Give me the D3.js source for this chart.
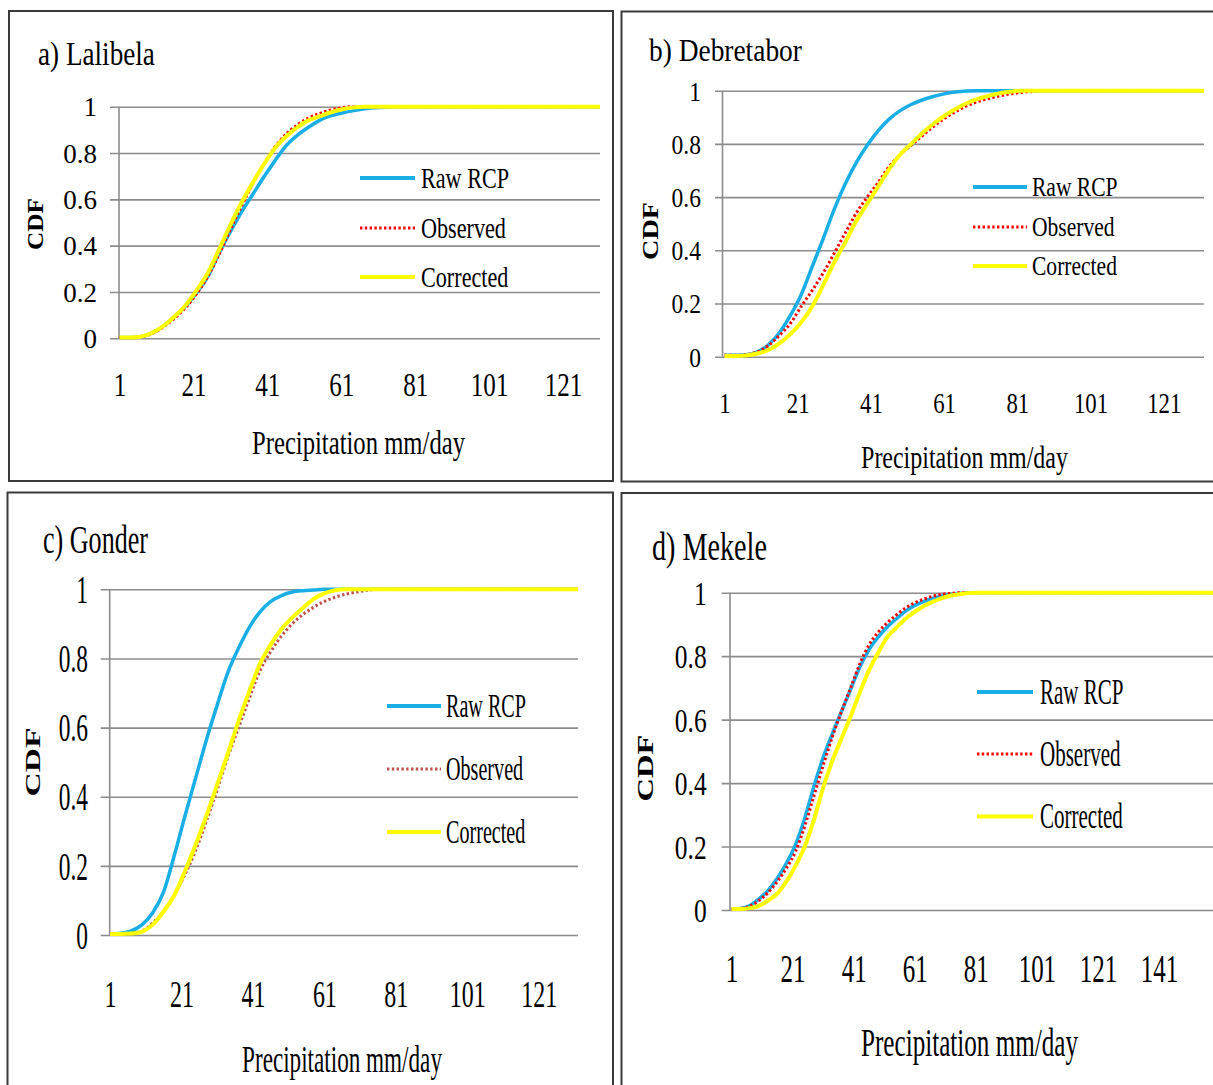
<!DOCTYPE html>
<html><head><meta charset="utf-8">
<script src="https://cdn.jsdelivr.net/npm/d3@7"></script>
<style>
html,body{margin:0;padding:0;background:#fff;overflow:hidden}
svg{display:block}
text{font-family:"Liberation Serif","Times New Roman",serif;fill:#000}
</style>
</head><body>
<svg id="chart" width="1213" height="1085"></svg>
<script>
// ---------------- DATA ----------------
const seriesNames = ["Raw RCP", "Observed", "Corrected"];
const yTickValues = [0, 0.2, 0.4, 0.6, 0.8, 1];
const yTickLabels = ["0", "0.2", "0.4", "0.6", "0.8", "1"];
const xTickValuesABC = [1, 21, 41, 61, 81, 101, 121];
const xTickValuesD = [1, 21, 41, 61, 81, 101, 121, 141];
const panelTitles = ["a) Lalibela", "b) Debretabor", "c) Gonder", "d) Mekele"];
const xAxisTitle = "Precipitation mm/day";
const yAxisTitle = "CDF";

// precipitation (mm/day) sample points per station
const lalibelaX   = [1,4,7,10,13,16,19,22,25,28,31,34,37,40,43,46,49,52,55,58,61,64,67,70,73,76,79,82,85,88,131];
const debretaborX = [1,4,7,10,13,16,19,22,25,28,31,34,37,40,43,46,49,52,55,58,61,64,67,70,73,76,79,82,85,88,132];
const gonderX     = [1,4,7,10,13,16,19,22,25,28,31,34,37,40,43,46,49,52,55,58,61,64,67,70,73,76,79,82,85,88,132];
const mekeleX     = [1,4,7,10,13,16,19,22,25,28,31,34,37,40,43,46,49,52,55,58,61,64,67,70,73,76,79,82,85,88,159];

// a) Lalibela
const lalibelaRaw  = [0.003,0.003,0.008,0.025,0.055,0.095,0.14,0.2,0.27,0.37,0.46,0.545,0.62,0.695,0.765,0.83,0.875,0.91,0.94,0.96,0.972,0.982,0.99,0.995,0.998,1,1,1,1,1,1];
const lalibelaObs  = [0.003,0.003,0.007,0.022,0.05,0.088,0.135,0.195,0.27,0.365,0.47,0.57,0.665,0.75,0.825,0.88,0.92,0.95,0.97,0.985,0.995,1,1,1,1,1,1,1,1,1,1];
const lalibelaCorr = [0.003,0.003,0.008,0.025,0.055,0.095,0.145,0.21,0.285,0.385,0.49,0.585,0.67,0.75,0.82,0.87,0.91,0.94,0.958,0.975,0.988,0.996,1,1,1,1,1,1,1,1,1];
// b) Debretabor
const debretaborRaw  = [0.005,0.005,0.007,0.018,0.045,0.09,0.155,0.235,0.34,0.445,0.555,0.65,0.73,0.795,0.85,0.893,0.925,0.948,0.965,0.978,0.988,0.995,0.999,1,1,1,1,1,1,1,1];
const debretaborObs  = [0.005,0.005,0.008,0.018,0.042,0.08,0.125,0.19,0.25,0.315,0.39,0.465,0.54,0.6,0.655,0.715,0.76,0.795,0.83,0.865,0.895,0.92,0.942,0.958,0.97,0.98,0.988,0.993,0.997,1,1];
const debretaborCorr = [0.003,0.003,0.005,0.012,0.025,0.05,0.085,0.13,0.19,0.27,0.355,0.43,0.51,0.575,0.64,0.705,0.76,0.8,0.84,0.875,0.905,0.93,0.952,0.968,0.98,0.99,0.996,1,1,1,1];
// c) Gonder
const gonderRaw  = [0.003,0.005,0.012,0.03,0.065,0.125,0.23,0.345,0.455,0.565,0.665,0.76,0.83,0.89,0.935,0.965,0.982,0.992,0.996,0.998,1,1,1,1,1,1,1,1,1,1,1];
const gonderObs  = [0.003,0.003,0.005,0.012,0.035,0.07,0.115,0.175,0.245,0.33,0.42,0.515,0.6,0.685,0.765,0.82,0.865,0.9,0.927,0.948,0.965,0.977,0.986,0.992,0.997,1,1,1,1,1,1];
const gonderCorr = [0.003,0.003,0.004,0.01,0.03,0.068,0.115,0.185,0.262,0.345,0.435,0.525,0.62,0.705,0.785,0.84,0.885,0.918,0.946,0.972,0.988,0.997,1,1,1,1,1,1,1,1,1];
// d) Mekele
const mekeleRaw  = [0.003,0.005,0.014,0.035,0.062,0.1,0.148,0.207,0.29,0.39,0.48,0.555,0.625,0.695,0.765,0.82,0.86,0.892,0.918,0.942,0.96,0.973,0.983,0.99,0.995,0.998,1,1,1,1,1];
const mekeleObs  = [0.003,0.005,0.012,0.03,0.055,0.09,0.132,0.185,0.265,0.36,0.455,0.545,0.625,0.7,0.775,0.835,0.875,0.905,0.93,0.952,0.968,0.98,0.989,0.995,0.998,1,1,1,1,1,1];
const mekeleCorr = [0.003,0.003,0.006,0.013,0.03,0.052,0.09,0.14,0.2,0.285,0.385,0.47,0.54,0.61,0.685,0.755,0.81,0.86,0.89,0.918,0.94,0.958,0.972,0.983,0.991,0.996,0.999,1,1,1,1];

// ---------------- LAYOUT / STYLE ----------------
const panels = [
  { title: panelTitles[0], x: lalibelaX, series: [lalibelaRaw, lalibelaObs, lalibelaCorr], xTicks: xTickValuesABC, obsColor: "#ff0000",
    border: [9, 11, 613, 481], xr: [119.5, 600], yr: [338.3, 106.7], axisX: 119, tickStart: 110,
    yLab: { right: 97, size: 27, sx: 1.0 }, xLab: { base: 396, size: 33, sx: 0.76 },
    ttl: { x: 38, y: 65, size: 34, w: 117 }, xt: { cx: 358.5, y: 454, size: 33, w: 213 },
    cdf: { cx: 35, cy: 224, size: 24, w: 52 },
    leg: { x1: 360, x2: 415, ys: [178, 228, 277], tx: 421, size: 29, sx: 0.765 } },
  { title: panelTitles[1], x: debretaborX, series: [debretaborRaw, debretaborObs, debretaborCorr], xTicks: xTickValuesABC, obsColor: "#ff0000",
    border: [621.5, 11.5, 1215, 481.5], xr: [724.5, 1204], yr: [356.7, 90.7], axisX: 722.5, tickStart: 715,
    yLab: { right: 701, size: 28, sx: 0.84 }, xLab: { base: 413, size: 30, sx: 0.76 },
    ttl: { x: 649, y: 61, size: 32, w: 153 }, xt: { cx: 964.5, y: 468, size: 31, w: 207 },
    cdf: { cx: 650, cy: 231, size: 24, w: 58 },
    leg: { x1: 973, x2: 1027, ys: [187, 227, 266], tx: 1032, size: 28, sx: 0.77 } },
  { title: panelTitles[2], x: gonderX, series: [gonderRaw, gonderObs, gonderCorr], xTicks: xTickValuesABC, obsColor: "#c0504d",
    border: [7.5, 492.5, 613, 1090], xr: [110, 578], yr: [935, 589.3], axisX: 109.7, tickStart: 100.7,
    yLab: { right: 88, size: 39, sx: 0.6 }, xLab: { base: 1007, size: 38, sx: 0.63 },
    ttl: { x: 43, y: 553, size: 41, w: 105 }, xt: { cx: 342, y: 1072, size: 38, w: 200 },
    cdf: { cx: 33, cy: 762, size: 20, w: 69 },
    leg: { x1: 387, x2: 441, ys: [706, 769, 832], tx: 446, size: 33, sx: 0.61 } },
  { title: panelTitles[3], x: mekeleX, series: [mekeleRaw, mekeleObs, mekeleCorr], xTicks: xTickValuesD, obsColor: "#ff0000",
    border: [621.5, 493, 1215, 1090], xr: [731.5, 1214], yr: [910, 592.7], axisX: 730, tickStart: 721.7,
    yLab: { right: 706.7, size: 34, sx: 0.75 }, xLab: { base: 981.7, size: 39, sx: 0.64 },
    ttl: { x: 652, y: 560, size: 40, w: 115 }, xt: { cx: 969.5, y: 1056, size: 40, w: 217 },
    cdf: { cx: 645, cy: 768, size: 23, w: 67 },
    leg: { x1: 977, x2: 1033, ys: [692, 754, 816.5], tx: 1040, size: 35, sx: 0.6 } }
];
const rawColor = "#1aaee6", corrColor = "#ffff00", gridColor = "#8c8c8c";

const svg = d3.select("#chart");
svg.append("rect").attr("width", 1213).attr("height", 1085).attr("fill", "#fff");

function fitText(g, str, x, y, size, width, anchor, weight, rotate) {
  const t = g.append("text").text(str).attr("font-size", size)
    .attr("text-anchor", anchor).attr("font-weight", weight || "normal");
  const len = t.node().getComputedTextLength();
  const s = width / len;
  t.attr("transform", `translate(${x},${y})${rotate ? " rotate(-90)" : ""} scale(${s},1)`);
  return t;
}

panels.forEach(p => {
  const g = svg.append("g");
  const [bx1, by1, bx2, by2] = p.border;
  g.append("rect").attr("x", bx1).attr("y", by1).attr("width", bx2 - bx1).attr("height", by2 - by1)
    .attr("fill", "#fff").attr("stroke", "#3a3a3a").attr("stroke-width", 2);

  const x = d3.scaleLinear().domain([1, p.x[p.x.length - 1]]).range(p.xr);
  const y = d3.scaleLinear().domain([0, 1]).range(p.yr);

  // gridlines
  const grid = d3.axisLeft(y).tickValues(yTickValues).tickFormat("").tickSize(-(p.xr[1] - p.tickStart));
  g.append("g").attr("transform", `translate(${p.tickStart},0)`).call(grid)
    .call(s => s.select(".domain").remove())
    .call(s => s.selectAll("line").attr("stroke", gridColor).attr("stroke-width", 1.6));
  // vertical axis line
  g.append("line").attr("x1", p.axisX).attr("x2", p.axisX).attr("y1", y(0)).attr("y2", y(1))
    .attr("stroke", gridColor).attr("stroke-width", 1.6);

  // y labels
  const yAx = d3.axisLeft(y).tickValues(yTickValues).tickFormat((d, i) => yTickLabels[i]).tickSize(0).tickPadding(0);
  g.append("g").attr("transform", `translate(${p.yLab.right},0)`).call(yAx)
    .call(s => s.select(".domain").remove())
    .call(s => s.selectAll("text").attr("font-size", p.yLab.size).attr("font-family", null)
      .attr("fill", "#000").attr("x", 0).attr("dy", (0.338 * p.yLab.size) + "px").attr("transform", `scale(${p.yLab.sx},1)`));

  // x labels
  const xAx = d3.axisBottom(x).tickValues(p.xTicks).tickFormat(d3.format("d")).tickSize(0).tickPadding(0);
  g.append("g").attr("transform", `translate(0,${p.xLab.base})`).call(xAx)
    .call(s => s.select(".domain").remove())
    .call(s => s.selectAll("text").attr("font-size", p.xLab.size).attr("font-family", null)
      .attr("fill", "#000").attr("y", 0).attr("dy", 0).attr("transform", `scale(${p.xLab.sx},1)`));

  // series lines
  const line = d3.line().x(d => x(d[0])).y(d => y(d[1])).curve(d3.curveMonotoneX);
  const styles = [
    { c: rawColor, w: 3.5, dash: null },
    { c: p.obsColor, w: 3, dash: "2.4,2.4" },
    { c: corrColor, w: 4, dash: null }
  ];
  p.series.forEach((vals, i) => {
    const pts = vals.map((v, j) => [p.x[j], v]);
    g.append("path").datum(pts).attr("d", line).attr("fill", "none")
      .attr("stroke", styles[i].c).attr("stroke-width", styles[i].w)
      .attr("stroke-dasharray", styles[i].dash).attr("stroke-linejoin", "round");
  });

  // legend
  seriesNames.forEach((name, i) => {
    const ly = p.leg.ys[i];
    g.append("line").attr("x1", p.leg.x1).attr("x2", p.leg.x2).attr("y1", ly).attr("y2", ly)
      .attr("stroke", styles[i].c).attr("stroke-width", i === 1 ? 3 : 4).attr("stroke-dasharray", styles[i].dash);
    g.append("text").text(name).attr("font-size", p.leg.size)
      .attr("transform", `translate(${p.leg.tx},${ly + 0.33 * p.leg.size}) scale(${p.leg.sx},1)`);
  });

  // titles
  fitText(g, p.title, p.ttl.x, p.ttl.y, p.ttl.size, p.ttl.w, "start");
  fitText(g, xAxisTitle, p.xt.cx, p.xt.y, p.xt.size, p.xt.w, "middle");
  fitText(g, yAxisTitle, p.cdf.cx + 0.331 * p.cdf.size, p.cdf.cy, p.cdf.size, p.cdf.w, "middle", "bold", true);
});
</script>
</body></html>
